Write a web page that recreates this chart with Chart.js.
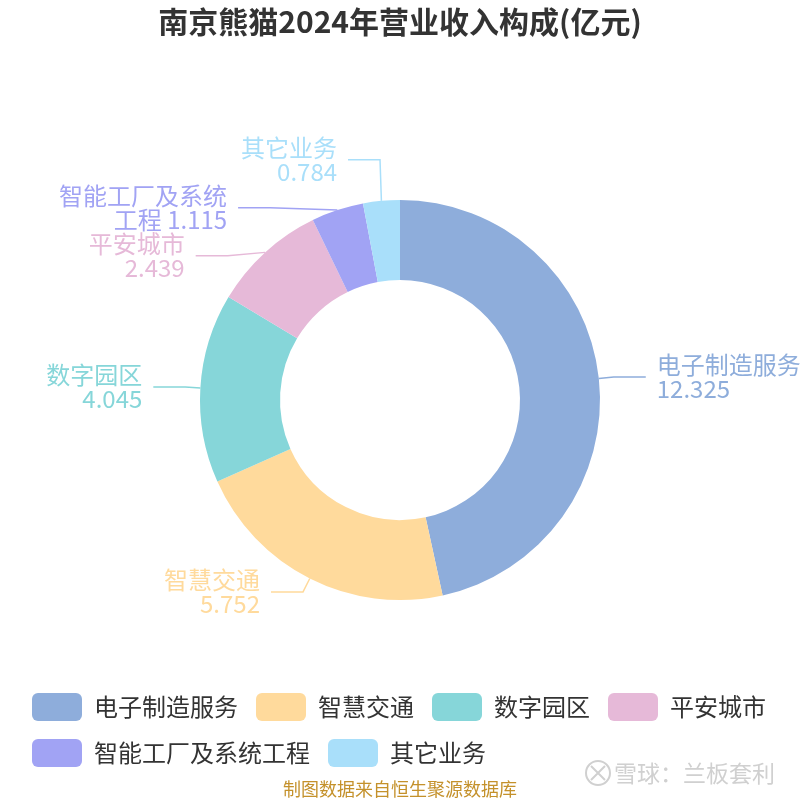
<!DOCTYPE html>
<html>
<head>
<meta charset="utf-8">
<script src="https://cdn.jsdelivr.net/npm/chart.js@4.4.1/dist/chart.umd.min.js"></script>
<style>
html, body { margin: 0; padding: 0; background: #fff; }
</style>
</head>
<body>
<canvas id="myChart" width="800" height="800"></canvas>
<script>
var categories = ['电子制造服务', '智慧交通', '数字园区', '平安城市', '智能工厂及系统工程', '其它业务'];
var revenueValues = [12.325, 5.752, 4.045, 2.439, 1.115, 0.784];
var sliceColors = ['#8EADDB', '#FFDA9C', '#86D6D9', '#E6B9D8', '#A1A3F4', '#A9DFFA'];

var FONT = '"Noto Sans CJK SC", "Noto Sans", sans-serif';
var LABEL_SIZE = 24;
var LINE_H = 23.5;
var LEN1 = 15;   // first leader segment
var LEN2 = 32;   // horizontal leader segment
var GAP = 11;    // leader end -> text

// name + value, long names wrap after 7 chars
function labelLines(i) {
    var name = categories[i];
    var val = revenueValues[i].toFixed(3);
    if (name.length > 7) {
        return [name.slice(0, 7), name.slice(7) + ' ' + val];
    }
    return [name, val];
}

var pieLabels = {
    id: 'pieLabels',
    afterDatasetsDraw: function (chart) {
        var ctx = chart.ctx;
        var meta = chart.getDatasetMeta(0);
        var items = [];
        meta.data.forEach(function (arc, i) {
            var p = arc.getProps(['x', 'y', 'startAngle', 'endAngle', 'outerRadius'], true);
            var mid = (p.startAngle + p.endAngle) / 2;
            var c = Math.cos(mid), s = Math.sin(mid);
            var rA = p.outerRadius + LEN1;
            items.push({
                i: i, cx: p.x, cy: p.y, dir: c < 0 ? -1 : 1, rA: rA,
                ax: p.x + c * p.outerRadius, ay: p.y + s * p.outerRadius,
                ex: p.x + c * rA, y: p.y + s * rA,
                lines: labelLines(i)
            });
        });

        // push overlapping labels apart on each side, then put elbows on an ellipse
        [-1, 1].forEach(function (dir) {
            var side = items.filter(function (it) { return it.dir === dir; })
                .sort(function (a, b) { return a.y - b.y; });
            if (side.length < 2) return;
            var moved = false;
            for (var n = 0; n < 60; n++) {
                for (var k = 0; k < side.length - 1; k++) {
                    var a = side[k], b = side[k + 1];
                    var need = (a.lines.length + b.lines.length) / 2 * LINE_H + 1;
                    var gap = b.y - a.y;
                    if (gap < need - 0.01) {
                        var d = (need - gap) / 2;
                        a.y -= d; b.y += d;
                        moved = true;
                    }
                }
            }
            if (!moved) return;
            [true, false].forEach(function (top) {
                var semi = side.filter(function (it) { return (it.y < it.cy) === top; });
                if (!semi.length) return;
                var far = semi[0];
                semi.forEach(function (it) {
                    if (Math.abs(it.y - it.cy) > Math.abs(far.y - far.cy)) far = it;
                });
                var dx0 = far.ex - far.cx, dy0 = far.y - far.cy;
                var rB = Math.abs(dx0) < far.rA ? Math.sqrt(dy0 * dy0 / (1 - dx0 * dx0 / (far.rA * far.rA))) : far.rA;
                semi.forEach(function (it) {
                    var dy = it.y - it.cy;
                    var q = Math.max(0, 1 - dy * dy / (rB * rB));
                    it.ex = it.cx + dir * Math.sqrt(q) * it.rA;
                });
            });
        });

        ctx.save();
        items.forEach(function (it) {
            var col = sliceColors[it.i];
            ctx.strokeStyle = col;
            ctx.lineWidth = 1.5;
            ctx.beginPath();
            ctx.moveTo(it.ax, it.ay);
            ctx.lineTo(it.ex, it.y);
            ctx.lineTo(it.ex + it.dir * LEN2, it.y);
            ctx.stroke();

            ctx.fillStyle = col;
            ctx.font = LABEL_SIZE + 'px ' + FONT;
            ctx.textAlign = it.dir < 0 ? 'right' : 'left';
            ctx.textBaseline = 'middle';
            var tx = it.ex + it.dir * (LEN2 + GAP);
            var y0 = it.y - (it.lines.length - 1) * LINE_H / 2;
            it.lines.forEach(function (ln, j) {
                ctx.fillText(ln, tx, y0 + j * LINE_H);
            });
        });
        ctx.restore();
    },
    afterDraw: function (chart) {
        var ctx = chart.ctx;
        ctx.save();
        // source note
        ctx.fillStyle = '#C4912B';
        ctx.font = '18px ' + FONT;
        ctx.textAlign = 'center';
        ctx.textBaseline = 'middle';
        ctx.fillText('制图数据来自恒生聚源数据库', 400, 789);
        // watermark
        ctx.strokeStyle = '#D0D0D0';
        ctx.lineWidth = 2;
        ctx.beginPath();
        ctx.arc(598, 773, 12, 0, Math.PI * 2);
        ctx.stroke();
        ctx.beginPath();
        ctx.moveTo(591, 766); ctx.lineTo(605, 780);
        ctx.moveTo(605, 766); ctx.lineTo(591, 780);
        ctx.stroke();
        ctx.fillStyle = '#D0D0D0';
        ctx.font = '23px ' + FONT;
        ctx.textAlign = 'left';
        ctx.fillText('雪球：兰板套利', 614, 773);
        ctx.restore();
    }
};

new Chart('myChart', {
    type: 'doughnut',
    data: {
        labels: categories,
        datasets: [{
            data: revenueValues,
            backgroundColor: sliceColors,
            borderWidth: 0,
            radius: 200
        }]
    },
    options: {
        responsive: false,
        animation: false,
        cutout: '60%',
        layout: { padding: { left: 14, right: 14, top: 0, bottom: 23 } },
        plugins: {
            title: {
                display: true,
                text: '南京熊猫2024年营业收入构成(亿元)',
                color: '#333',
                font: { family: FONT, size: 30, weight: 'bold' },
                padding: { top: 4, bottom: 85 }
            },
            legend: {
                position: 'bottom',
                align: 'start',
                labels: {
                    boxWidth: 50,
                    boxHeight: 28,
                    useBorderRadius: true,
                    borderRadius: 6,
                    padding: 18,
                    color: '#333',
                    font: { family: FONT, size: 24 }
                }
            },
            tooltip: { enabled: false }
        }
    },
    plugins: [pieLabels]
});
</script>
</body>
</html>
